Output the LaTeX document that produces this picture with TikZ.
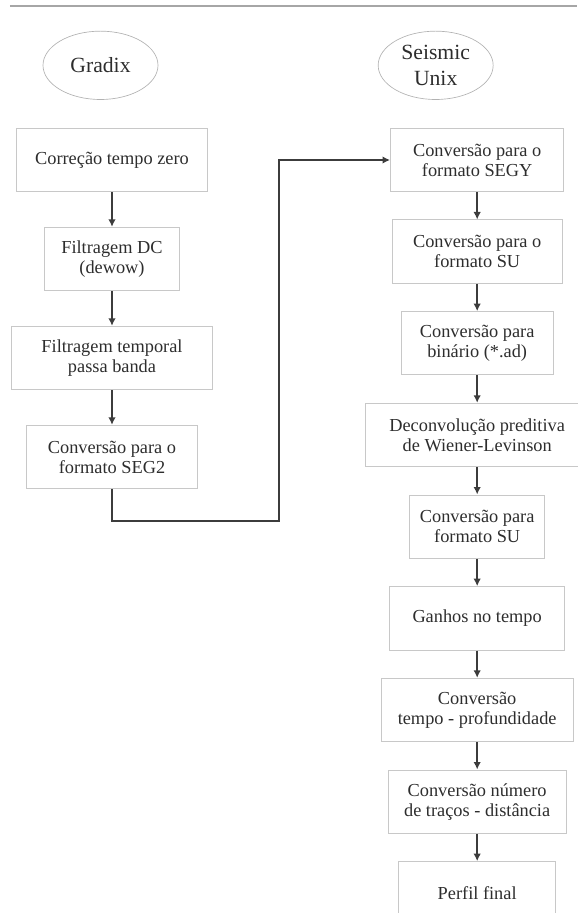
\documentclass[tikz,border=0pt]{standalone}
\usepackage{fontspec}
\setmainfont{Liberation Serif}
\usetikzlibrary{shapes, arrows.meta, positioning}
\definecolor{boxgray}{RGB}{200,200,200}
\definecolor{linegray}{RGB}{60,60,60}
\definecolor{textgray}{RGB}{45,45,45}

\begin{document}
\begin{tikzpicture}[
    % Define the style for each block
    program/.style={ellipse, draw=gray!60, text=textgray, align=center, minimum width=69pt, minimum height=41pt, inner sep=0pt, font=\fontsize{13}{16}\selectfont},
    process/.style={rectangle, draw=boxgray, line width=0.6pt, text=textgray, align=center, minimum height=38pt, font=\fontsize{11}{12}\selectfont},
    connector/.style={-{Latex[length=4.5pt, width=4.5pt]}, draw=linegray, line width=1pt},
    node distance=20.8pt
]

\useasboundingbox (-67.2pt, 96pt) rectangle (279pt, -451.8pt);

% Rule on top of the page
\draw [gray!70, line width=0.9pt] (-61.2pt, 92.4pt) -- (279pt, 92.4pt);

% Gradix column
\node [process, minimum width=114pt] (Corr) {Correção tempo zero};
\node [process, minimum width=81pt, below=of Corr] (Dewow) {Filtragem DC\\(dewow)};
\node [process, minimum width=120pt, below=of Dewow] (Bandpass) {Filtragem temporal\\passa banda};
\node [process, minimum width=103pt, below=of Bandpass] (Seg2) {Conversão para o\\formato SEG2};

\node [program, above=16.8pt of Corr, xshift=-6.9pt] (Gradix) {Gradix};

% Seismic Unix column
\node [process, minimum width=104pt, right=109.5pt of Corr] (Segy) {Conversão para o\\formato SEGY};
\node [process, minimum width=102pt, below=16.4pt of Segy] (Su1) {Conversão para o\\formato SU};
\node [process, minimum width=91pt, below=16.4pt of Su1] (Binary) {Conversão para\\binário (*.ad)};
\node [process, minimum width=134.4pt, below=16.4pt of Binary] (Decon) {Deconvolução preditiva\\de Wiener-Levinson};
\node [process, minimum width=81pt, below=16.4pt of Decon] (Su2) {Conversão para\\formato SU};
\node [process, minimum width=105pt, below=16.4pt of Su2] (Gain) {Ganhos no tempo};
\node [process, minimum width=115pt, below=16.4pt of Gain] (Depth) {Conversão\\tempo - profundidade};
\node [process, minimum width=107pt, below=16.4pt of Depth] (Dist) {Conversão número\\de traços - distância};
\node [process, minimum width=94pt, below=16.4pt of Dist] (Final) {Perfil final};

\node [program, above=16.8pt of Segy, xshift=-24.9pt] (Seismic) {Seismic\\Unix};

\coordinate [below right=19.2pt and 100.2pt of Seg2.south] (Bend);

% Draw connectors
\draw [connector] (Corr) -- (Dewow);
\draw [connector] (Dewow) -- (Bandpass);
\draw [connector] (Bandpass) -- (Seg2);

\draw [connector] (Seg2.south) |- (Bend) |- (Segy.west);

\draw [connector] (Segy) -- (Su1);
\draw [connector] (Su1) -- (Binary);
\draw [connector] (Binary) -- (Decon);
\draw [connector] (Decon) -- (Su2);
\draw [connector] (Su2) -- (Gain);
\draw [connector] (Gain) -- (Depth);
\draw [connector] (Depth) -- (Dist);
\draw [connector] (Dist) -- (Final);
\end{tikzpicture}
\end{document}
